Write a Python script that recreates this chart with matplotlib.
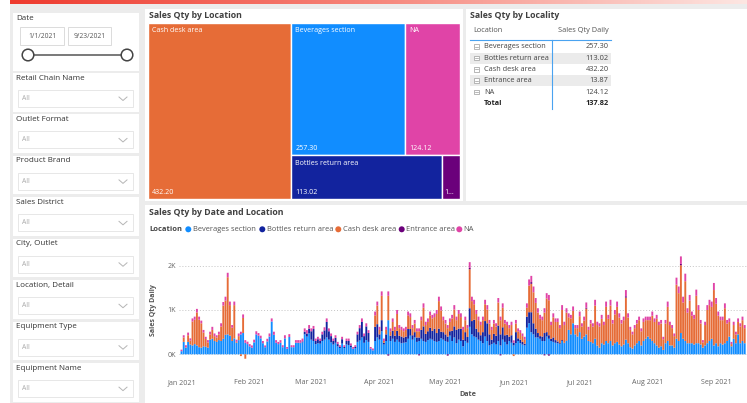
import matplotlib
matplotlib.use("Agg")
import matplotlib.pyplot as plt
import matplotlib.dates as mdates
from matplotlib.patches import Rectangle, Circle
from matplotlib.colors import LinearSegmentedColormap
import numpy as np
import pandas as pd

plt.rcParams['font.family'] = ['Open Sans', 'DejaVu Sans']

# ---- data ----
locations = ["Beverages section", "Bottles return area", "Cash desk area", "Entrance area", "NA"]
loc_colors = ["#118DFF", "#12239E", "#E66C37", "#6B007B", "#E044A7"]
sales_qty_daily = [257.30, 113.02, 432.20, 13.87, 124.12]
sales_qty_total = 137.82

slicer_names = ["Retail Chain Name", "Outlet Format", "Product Brand", "Sales District",
                "City, Outlet", "Location, Detail", "Equipment Type", "Equipment Name"]
date_from = "1/1/2021"
date_to = "9/23/2021"
month_labels = ["Jan 2021", "Feb 2021", "Mar 2021", "Apr 2021", "May 2021",
                "Jun 2021", "Jul 2021", "Aug 2021", "Sep 2021"]
y_ticks = [0, 1000, 2000]
y_tick_labels = ["0K", "1K", "2K"]

# daily stacked values from 1 Jan 2021 (screenshot cuts off after mid Sep)
first_day = "2021-01-01"
beverages = [
    70, 280, 150, 280, 220, 200, 230, 200, 160, 150, 180, 170, 150, 330, 350, 300, 280, 320, 300, 350, 440, 450, 420, 300, 360, 260, 320, 450, 480, 260, 230,  # jan
    180, 150, 270, 450, 420, 360, 250, 160, 290, 400, 740, 440, 260, 230, 260, 160, 360, 125, 390, 160, 160, 260, 260, 250, 270, 450, 400, 470,  # feb
    330, 300, 230, 250, 240, 300, 330, 380, 330, 270, 220, 260, 180, 140, 240, 140, 220, 210, 160, 120, 140, 280, 310, 380, 260, 320, 280, 120, 90, 300, 380,  # mar
    330, 520, 220, 300, 770, 300, 350, 280, 330, 280, 250, 260, 270, 350, 420, 330, 380, 280, 300, 350, 300, 280, 320, 350, 330, 300, 280, 300, 360, 330,  # apr
    300, 280, 420, 300, 380, 250, 330, 300, 180, 300, 260, 620, 450, 400, 380, 330, 300, 250, 400, 300, 200, 230, 260, 220, 300, 200, 330, 280, 220, 300, 260,  # may
    200, 250, 300, 250, 220, 200, 600, 700, 500, 450, 380, 380, 350, 300, 300, 400, 350, 300, 280, 260, 250, 230, 300, 250, 300, 550, 450, 700, 450, 400,  # jun
    500, 350, 400, 450, 300, 280, 250, 350, 200, 150, 250, 220, 300, 250, 300, 200, 250, 280, 220, 180, 220, 330, 250, 160, 130, 200, 250, 300, 200, 300, 350,  # jul
    400, 350, 300, 250, 200, 150, 180, 100, 250, 300, 200, 200, 150, 350, 300, 480, 350, 300, 250, 250, 250, 220, 250, 250, 220, 150, 200, 250, 300, 350, 200,  # aug
    250, 180, 250, 220, 250, 300, 400, 180, 350, 250, 450, 250, 300, 250,  # sep
]
bottles = (
    [0] * 31
    + [0] * 23 + [10, 20, 60, 70, 110]
    + [190, 270, 70, 90, 60, 150, 210, 350, 190, 140, 80, 110, 50, 25, 100, 25, 80, 90, 40, 5, 25, 170, 280, 350, 150, 310, 200, 5, 0, 320, 300]
    + [120, 250, 40, 150, 0, 120, 180, 140, 200, 140, 150, 120, 130, 220, 150, 100, 120, 100, 80, 200, 330, 180, 200, 250, 200, 280, 200, 280, 150, 170]
    + [150, 120, 100, 230, 250, 300, 250, 280, 150, 200, 130, 420, 300, 380, 200, 170, 130, 250, 350, 400, 250, 100, 200, 200, 350, 250, 280, 150, 220, 100, 170]
    + [60, 250, 60, 80, 60, 40, 250, 250, 450, 250, 200, 100, 60, 100, 180, 100, 80, 50, 100, 60, 40, 20, 20, 10, 10, 0, 0, 0, 0, 0]
    + [0] * 31 + [0] * 31 + [0] * 14
)
cash_desk = [
    0, 100, 10, 150, 90, 540, 550, 745, 620, 550, 310, 175, 120, 120, 200, 110, 100, 130, 330, 750, 770, 1290, 690, 300, 750, 20, 90, -40, 340, -100, 0,  # jan
    0, 0, 0, 0, 0, 0, 0, 0, 0, 0, 0, 0, 0, 0, 0, 0, 0, 0, 0, 0, 0, 0, 0, 0, 0, 0, 0, 0,  # feb
    0, 0, 0, 0, 0, 0, 0, 0, 0, 0, 0, 0, 0, 0, 0, 0, 0, 0, 0, 0, 0, 0, 0, 0, 0, 0, 0, 0, 0, 260, 420,  # mar
    100, 550, 40, 100, 550, 100, 200, 130, 380, 170, 150, 140, 150, 310, 270, 160, 195, 140, 140, 220, 420, 200, 210, 280, 280, 260, 430, 620, 480, 270,  # apr
    245, 190, 210, 280, 380, 220, 330, 260, 220, 270, 200, 880, 450, 350, 330, 270, 230, 270, 380, 310, 245, 220, 235, 205, 520, 320, 440, 265, 220, 190, 230,  # may
    -40, 195, 160, 150, 130, 100, 200, 600, 640, 700, 580, 460, 390, 370, 460, 760, 790, 310, 455, 410, 440, 340, 680, 400, 630, 285, 360, 280, 140, 190,  # jun
    360, 280, 360, 580, 250, 415, 375, 750, 460, 475, 550, 440, 770, 550, 800, 495, 650, 790, 610, 515, 550, 950, 580, 390, 320, 390, 445, 470, 320, 430, 420,  # jul
    370, 420, 570, 480, 600, 510, 515, 240, 445, 770, 460, 390, 260, 1220, 1080, 1530, 820, 1350, 690, 960, 620, 580, 1070, 750, 475, 120, 460, 750, 810, 720, 1250,  # aug
    890, 690, 520, 550, 790, 395, 330, 50, 310, 200, 280, 380, 470, 340,  # sep
]
na = [
    35, 50, 45, 60, 50, 70, 70, 80, 70, 60, 60, 50, 50, 60, 70, 60, 50, 60, 70, 80, 90, 100, 80, 60, 80, 50, 60, 60, 80, 60, 55,  # jan
    50, 50, 60, 70, 60, 60, 50, 40, 60, 70, 70, 70, 60, 50, 60, 45, 70, 40, 65, 45, 45, 60, 60, 60, 65, 75, 75, 80,  # feb
    65, 70, 55, 55, 55, 60, 70, 80, 65, 60, 55, 60, 50, 40, 55, 40, 55, 55, 45, 40, 40, 60, 70, 80, 60, 70, 65, 40, 40, 85, 90,  # mar
    70, 100, 55, 70, 100, 65, 80, 70, 90, 70, 70, 65, 70, 85, 85, 70, 80, 65, 65, 80, 100, 75, 80, 85, 80, 85, 90, 100, 90, 80,  # apr
    80, 70, 80, 80, 100, 80, 90, 85, 70, 80, 70, 130, 100, 100, 90, 80, 75, 80, 100, 100, 80, 70, 80, 75, 100, 80, 100, 80, 75, 70, 75,  # may
    55, 80, 65, 65, 60, 55, 100, 140, 140, 130, 110, 100, 90, 80, 100, 120, 120, 75, 90, 80, 80, 70, 110, 75, 100, 90, 80, 100, 70, 70,  # jun
    105, 70, 90, 120, 70, 80, 75, 130, 75, 75, 90, 75, 120, 90, 130, 80, 100, 120, 95, 80, 80, 140, 95, 70, 60, 70, 80, 80, 65, 80, 80,  # jul
    80, 80, 95, 80, 90, 75, 80, 55, 80, 120, 75, 70, 60, 160, 150, 170, 130, 170, 100, 130, 95, 90, 140, 110, 80, 50, 75, 110, 120, 120, 160,  # aug
    130, 95, 80, 80, 110, 80, 80, 50, 75, 60, 80, 70, 80, 70,  # sep
]
# entrance area only shows on a handful of days (day index, qty)
entrance_days = [94, 108, 121, 131, 145, 159, 165, 167, 184, 202, 227]
entrance_vals = [-30, -25, -30, 30, -25, 40, -25, -30, 20, 30, 30]

entrance = np.zeros(len(beverages))
entrance[entrance_days] = entrance_vals

# ---- figure ----
W, H = 747, 403
fig = plt.figure(figsize=(W / 100, H / 100), dpi=100)
cv = fig.add_axes([0, 0, 1, 1])
cv.axis("off")

TXT = "#333333"


def box(x0, y0, x1, y1, fc, ec="none", lw=0.0, z=1):
    cv.add_patch(Rectangle((x0, y0), x1 - x0, y1 - y0, facecolor=fc, edgecolor=ec, linewidth=lw, zorder=z))


def label(x, y, s, size=5.0, color=TXT, weight="normal", ha="left", va="center", **kw):
    cv.text(x, y, s, fontsize=size, color=color, fontweight=weight, ha=ha, va=va, zorder=5, **kw)


# background + top accent strip
box(10, 4, W, H, "#ececec", z=0)
grad = LinearSegmentedColormap.from_list("strip", ["#ee3a2e", "#f6877c", "#fde6e2"])
cv.imshow(np.linspace(0, 1, 256)[None, :], extent=[10, W, 4, 0], cmap=grad, aspect="auto", zorder=1)

# ---- slicer panel ----
box(12.5, 12.5, 139, 70.5, "white")
label(16, 18, "Date", size=5.8)
for (bx0, bx1), txt in zip([(20, 64), (68, 111)], [date_from, date_to]):
    box(bx0, 27, bx1, 45, "white", ec="#d6d6d6", lw=0.6, z=2)
    label((bx0 + bx1) / 2, 36, txt, size=4.9, color="#555555", ha="center")
cv.plot([28, 127], [55, 55], color="#555555", lw=1.1, zorder=3)
for cx in (28, 127):
    cv.add_patch(Circle((cx, 55), 5.8, facecolor="white", edgecolor="#444444", lw=1.1, zorder=4))

for i, name in enumerate(slicer_names):
    ty = 78 + 41.45 * i
    box(12.5, ty - 5, 139, ty + 33.5, "white")
    label(16, ty, name, size=5.8)
    box(18, ty + 12, 133, ty + 29, "white", ec="#e3e3e3", lw=0.6, z=2)
    label(22, ty + 20.5, "All", size=4.9, color="#a8a8a8")
    cv.plot([119, 123, 127], [ty + 19, ty + 22.5, ty + 19], color="#b5b5b5", lw=0.7, zorder=3)

# ---- treemap card ----
box(145, 9, 463, 201, "white")
label(149, 16, "Sales Qty by Location", size=6.3, weight="bold", color="#404040")


def treemap(values, x0, y0, w, h):
    # biggest tile as a full-height column, the rest in two rows (Power BI layout)
    order = list(np.argsort(values)[::-1])
    total = sum(values)
    cw = w * values[order[0]] / total
    rects = {order[0]: (x0, y0, cw, h)}
    rest = order[1:]
    rest_total = sum(values[k] for k in rest)
    yy = y0
    for row in (rest[:2], rest[2:]):
        row_sum = sum(values[k] for k in row)
        rh = h * row_sum / rest_total
        xx = x0 + cw
        for k in row:
            rw = (w - cw) * values[k] / row_sum
            rects[k] = (xx, yy, rw, rh)
            xx += rw
        yy += rh
    return rects


tiles = treemap(sales_qty_daily, 148, 23, 312, 176)
for k, (tx, ty, tw, th) in tiles.items():
    cv.add_patch(Rectangle((tx, ty), tw, th, facecolor=loc_colors[k], edgecolor="white", lw=1.0, zorder=2))
    val = f"{sales_qty_daily[k]:.2f}"
    if tw > 40:
        label(tx + 4, ty + 8, locations[k], size=5.1, color="white")
        label(tx + 4, ty + th - 7, val, size=5.1, color="white")
    else:
        label(tx + 3, ty + th - 7, val[0] + "...", size=5.1, color="white")

# ---- table card ----
box(466, 9, W, 201, "white")
label(470, 16, "Sales Qty by Locality", size=6.3, weight="bold", color="#404040")
label(473, 30.5, "Location", size=5.3, color="#555555")
label(608.5, 30.5, "Sales Qty Daily", size=5.3, color="#555555", ha="right")
row_y = [46.7 + 11.35 * i for i in range(len(locations) + 1)]
for i, (loc, v) in enumerate(zip(locations, sales_qty_daily)):
    y = row_y[i]
    if i % 2 == 1:
        box(470, y - 5.5, 611, y + 5.5, "#ebebeb")
    box(474, y - 2.3, 478.5, y + 2.2, "white", ec="#9a9a9a", lw=0.5, z=3)
    cv.plot([474.9, 477.6], [y, y], color="#9a9a9a", lw=0.5, zorder=4)
    label(484, y, loc, size=5.3, color="#444444")
    label(608.5, y, f"{v:.2f}", size=5.3, color="#444444", ha="right")
label(484, row_y[-1], "Total", size=5.3, weight="bold", color="#222222")
label(608.5, row_y[-1], f"{sales_qty_total:.2f}", size=5.3, weight="bold", color="#222222", ha="right")
cv.plot([470, 611], [40.3, 40.3], color="#4aa3f0", lw=0.8, zorder=4)
cv.plot([552.3, 552.3], [40.3, 108.5], color="#4aa3f0", lw=0.8, zorder=4)

# ---- stacked column card ----
box(145, 205, W, H, "white")
label(149, 212.3, "Sales Qty by Date and Location", size=6.3, weight="bold", color="#404040")
label(149, 229.3, "Location", size=5.4, weight="bold", color="#444444")
leg_x = [188.3, 262.3, 338.3, 401.7, 459.3]
for lx, loc, col in zip(leg_x, locations, loc_colors):
    cv.add_patch(Circle((lx, 229.3), 3.0, facecolor=col, edgecolor="none", zorder=4))
    label(lx + 4.3, 229.3, loc, size=5.4, color="#555555")
label(153.3, 310, "Sales Qty Daily", size=5.0, weight="bold", color="#555555", rotation=90, ha="center")
label(468, 395, "Date", size=5.2, weight="bold", color="#555555", ha="center")

cv.set_xlim(0, W)
cv.set_ylim(H, 0)

# chart axes placed in pixel terms: x 179..747, y 245..362
ax = fig.add_axes([179 / W, (H - 362) / H, (W - 179) / W, 117 / H])
ax.patch.set_alpha(0)

days = pd.date_range(first_day, periods=len(beverages))
xd = mdates.date2num(days)
series = [beverages, bottles, cash_desk, entrance, na]
pos = np.zeros(len(xd))
neg = np.zeros(len(xd))
for vals, col in zip(series, loc_colors):
    v = np.asarray(vals, dtype=float)
    bottom = np.where(v >= 0, pos, neg)
    bars = ax.bar(xd, v, bottom=bottom, width=0.86, color=col, linewidth=0, zorder=3)
    for b in bars:
        b.set_snap(False)
    pos += np.clip(v, 0, None)
    neg += np.clip(v, None, 0)

ax.set_xlim(xd[0] - 1.14, xd[0] + 257.05)
ax.set_ylim(-174, 2467)
month_starts = pd.date_range(first_day, periods=len(month_labels), freq="MS")
ax.set_xticks(mdates.date2num(month_starts))
ax.set_xticklabels(month_labels)
ax.set_yticks(y_ticks)
ax.set_yticklabels(y_tick_labels)
ax.tick_params(axis="x", length=0, pad=12.6, labelsize=5.1, labelcolor="#666666")
ax.tick_params(axis="y", length=0, pad=2.2, labelsize=5.1, labelcolor="#666666")
ax.grid(axis="y", linestyle=(0, (1, 2)), color="#c4c4c4", lw=0.7, zorder=0)
for s in ax.spines.values():
    s.set_visible(False)

fig.savefig("out.png", dpi=100)
